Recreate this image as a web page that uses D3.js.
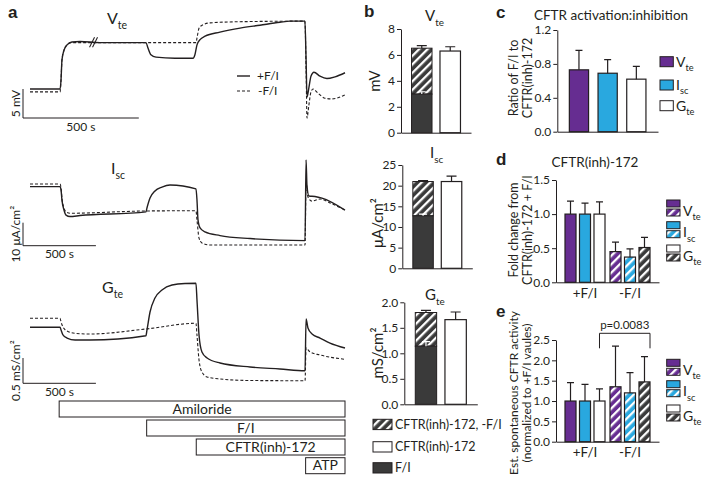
<!DOCTYPE html>
<html><head><meta charset="utf-8">
<script src="https://cdn.jsdelivr.net/npm/d3@7"></script>
<style>body{margin:0;background:#fff}svg{display:block;font-family:Lato,'Open Sans',sans-serif}</style>
</head><body><svg id="chart" width="708" height="478"></svg>
<script>
// ---------------- DATA ----------------
// Panel a traces (time in s, value in trace units)
const vteSolidT = [0,130,134,138,147,160,181,216,302,501,509,522,544,626,704,712,721,734,756,820,907,993,1079,1122,1187,1192,1196,1204,1213,1226,1252,1282,1317,1360];
const vteSolidV = [5.0,5.0,6.6,10.0,11.7,12.6,13.1,13.2,13.0,13.0,12.1,10.9,10.5,10.3,10.3,10.9,12.6,13.5,14.1,14.8,15.5,16.0,16.5,16.7,16.7,10.0,3.6,5.2,7.2,7.9,7.2,6.8,7.1,7.8];
const vteDashT = [0,130,134,138,147,160,181,501,717,721,730,743,777,907,1187,1192,1196,1204,1213,1222,1243,1274,1304,1360];
const vteDashV = [4.5,4.5,6.6,10.0,11.7,12.6,13.0,13.0,13.0,13.8,15.5,16.0,16.4,16.6,16.7,8.3,0,2.2,4.5,5.0,4.3,3.4,3.3,4.0];
const iscSolidT = [0,206,213,219,233,247,274,343,795,802,823,857,905,960,1138,1145,1152,1166,1200,1303,1509,1886,1893,1899,1913,1954,2002,2160];
const iscSolidV = [25.7,25.7,24.2,19.9,15.5,13.3,12.7,13.1,14.7,16.4,20.7,23.8,25.5,26.4,24.7,19.9,11.2,7.7,6.0,4.4,3.1,2.2,37.3,26.4,21.6,21.4,20.7,15.5];
const iscDashT = [0,206,213,219,233,247,274,795,1138,1145,1159,1179,1234,1886,1893,1906,1934,1989,2057,2160];
const iscDashV = [26.8,26.8,25.1,20.7,16.4,14.7,14.1,15.1,15.2,11.2,3.3,1.2,0.3,0.3,27.3,21.2,19.4,20.3,18.6,15.5];
const gteSolidT = [0,206,213,226,254,309,411,795,802,823,857,905,974,1063,1138,1145,1159,1179,1214,1303,1509,1714,1886,1893,1906,1934,1989,2057,2160];
const gteSolidV = [1.107,1.107,1.053,0.955,0.895,0.856,0.856,0.941,1.05,1.409,1.686,1.844,1.943,1.972,1.976,1.646,0.955,0.619,0.500,0.401,0.322,0.283,0.249,1.271,1.093,0.974,0.895,0.796,0.698];
const gteDashT = [0,206,213,226,254,309,411,795,1138,1145,1159,1179,1214,1303,1509,1886,1893,1920,1989,2160];
const gteDashV = [1.285,1.285,1.211,1.113,1.034,0.988,0.974,1.073,1.186,0.955,0.460,0.223,0.125,0.085,0.055,0.051,0.698,0.619,0.559,0.474];
const treatments = ["Amiloride","F/I","CFTR(inh)-172","ATP"];
const treatmentStart = [200,800,1140,1890];
const traceEnd = 2160;

// Panel b
const bCats = ["CFTR(inh)-172, -F/I","CFTR(inh)-172"];
const bMeasures = ["V","I","G"];
const bSubs = ["te","sc","te"];
const bUnits = ["mV","μA/cm²","mS/cm²"];
const bFI = [2.98,12.7,1.14];
const bFIerr = [0.18,0.4,0.09];
const bTotal = [6.52,21.0,1.80];
const bTotalErr = [0.2,0.2,0.04];
const bInh = [6.3,21.0,1.66];
const bInhErr = [0.33,1.3,0.15];
const bMax = [8,25,2];
const bStep = [2,5,0.5];

// Panel c
const series = ["Vte","Isc","Gte"];
const seriesMain = ["V","I","G"];
const seriesSub = ["te","sc","te"];
const cVals = [0.73,0.69,0.62];
const cErr = [0.23,0.16,0.15];

// Panel d
const groups = ["+F/I","-F/I"];
const dPlus = [1.0,1.0,1.0], dPlusErr = [0.19,0.16,0.18];
const dMinus = [0.45,0.37,0.51], dMinusErr = [0.14,0.12,0.15];

// Panel e
const ePlus = [1.0,1.0,1.0], ePlusErr = [0.45,0.41,0.30];
const eMinus = [1.35,1.20,1.47], eMinusErr = [1.0,0.50,0.62];
const pText = "p=0.0083";

// ---------------- DRAW ----------------
const svg = d3.select("#chart");
const INK = "#231f20", PURPLE = "#662d91", BLUE = "#29a8df", DARK = "#3a3a3a";
const LETTER_FONT = "'Liberation Sans',Arial,sans-serif";
const defs = svg.append("defs");
function makeHatch(id, bg){
  const p = defs.append("pattern").attr("id",id).attr("patternUnits","userSpaceOnUse")
    .attr("width",6).attr("height",6).attr("patternTransform","rotate(45)");
  p.append("rect").attr("width",6).attr("height",6).attr("fill",bg);
  p.append("rect").attr("width",2.3).attr("height",6).attr("fill","#fff");
}
makeHatch("hDark",DARK); makeHatch("hPurple",PURPLE); makeHatch("hBlue",BLUE);

function txt(g,x,y,s,size,o={}){
  const t=g.append("text").attr("x",x).attr("y",y).attr("font-size",size).attr("fill",INK).text(s);
  if(o.anchor) t.attr("text-anchor",o.anchor);
  if(o.weight) t.attr("font-weight",o.weight);
  if(o.rotate) t.attr("transform",`rotate(-90,${x},${y})`);
  if(o.family) t.attr("font-family",o.family);
  return t;
}
function subTxt(g,x,y,main,sub,size,anchor){
  const t=g.append("text").attr("x",x).attr("y",y).attr("font-size",size).attr("fill",INK).attr("text-anchor",anchor||"start");
  t.append("tspan").text(main);
  t.append("tspan").attr("font-size",size*0.66).attr("dy",size*0.32).text(sub);
  return t;
}
function styleAxis(s,size){
  s.attr("font-family",null).attr("font-size",null).attr("color",INK);
  s.selectAll("text").attr("font-size",size||12).attr("fill",INK);
  s.selectAll("path,line").attr("stroke",INK).attr("stroke-width",1);
}
function errBar(g,x,yTop,yEnd,cap,color){
  g.append("path").attr("d",`M${x},${yTop}V${yEnd}M${x-cap/2},${yEnd}H${x+cap/2}`)
   .attr("stroke",color||INK).attr("stroke-width",1.2).attr("fill","none");
}

// ----- Panel a -----
const ga = svg.append("g");
txt(ga,8,18,"a",17,{weight:"bold",family:LETTER_FONT});
const xV = d3.scaleLinear().domain([0,1360]).range([30,345]);
const yV = d3.scaleLinear().domain([0,5]).range([118,89]);
const xT = d3.scaleLinear().domain([0,traceEnd]).range([30,345]);
const yI = d3.scaleLinear().domain([0,10]).range([245.7,222.7]);
const yG = d3.scaleLinear().domain([0,0.5]).range([383.3,358]);

function trace(T,V,xs,ys,dashed){
  const pts=T.map((t,i)=>[t,V[i]]);
  ga.append("path").datum(pts)
    .attr("d",d3.line().x(d=>xs(d[0])).y(d=>ys(d[1])).curve(d3.curveMonotoneX))
    .attr("fill","none").attr("stroke",INK)
    .attr("stroke-width",dashed?1.1:1.4)
    .attr("stroke-dasharray",dashed?"3,2":null);
}
trace(vteDashT,vteDashV,xV,yV,true);
trace(vteSolidT,vteSolidV,xV,yV,false);
trace(iscDashT,iscDashV,xT,yI,true);
trace(iscSolidT,iscSolidV,xT,yI,false);
trace(gteDashT,gteDashV,xT,yG,true);
trace(gteSolidT,gteSolidV,xT,yG,false);

// break mark
{
  const bx=xV(270), by=yV(13.05);
  [0,3].forEach(o=>ga.append("line").attr("x1",bx-3+o).attr("y1",by+5).attr("x2",bx+2+o).attr("y2",by-5)
    .attr("stroke",INK).attr("stroke-width",1.1));
}
subTxt(ga,107,24,"V","te",16);
subTxt(ga,111,174,"I","sc",16);
subTxt(ga,102,293,"G","te",16);

function scaleBar(xs,ys,unitVal,label){
  const x0=23, len=xs(500)-xs(0);
  ga.append("path").attr("d",`M${x0},${ys(unitVal)}V${ys(0)}H${x0+len}`)
    .attr("fill","none").attr("stroke",INK).attr("stroke-width",1);
  txt(ga,20,(ys(0)+ys(unitVal))/2,label,12,{anchor:"middle",rotate:true});
  txt(ga,x0+len/2,ys(0)+12.5,"500 s",12,{anchor:"middle"});
}
scaleBar(xV,yV,5,"5 mV");
scaleBar(xT,yI,10,"10 μA/cm²");
scaleBar(xT,yG,0.5,"0.5 mS/cm²");

// legend a
ga.append("line").attr("x1",237).attr("x2",250).attr("y1",76).attr("y2",76).attr("stroke",INK).attr("stroke-width",1.4);
ga.append("line").attr("x1",237).attr("x2",250).attr("y1",91).attr("y2",91).attr("stroke",INK).attr("stroke-width",1.1).attr("stroke-dasharray","3,2");
txt(ga,257,80,"+F/I",12);
txt(ga,258,95,"-F/I",12);

// treatment boxes
const boxY=[401,420,439,457.7];
treatments.forEach((name,i)=>{
  const x=xT(treatmentStart[i]), w=xT(traceEnd)-x;
  ga.append("rect").attr("x",x).attr("y",boxY[i]).attr("width",w).attr("height",16)
    .attr("fill","#fff").attr("stroke",INK).attr("stroke-width",1);
  txt(ga,x+w/2,boxY[i]+12.5,name,14,{anchor:"middle"});
});

// ----- Panel b -----
const gb = svg.append("g");
txt(gb,364,17,"b",17,{weight:"bold",family:LETTER_FONT});
const bLayout=[
  {ax:401,y0:132.7,y1:29,w:70,tx:425,ty:21,ux:380,uy:81},
  {ax:402.3,y0:268.3,y1:165,w:70,tx:430,ty:158,ux:383,uy:223},
  {ax:404.3,y0:404.3,y1:302.3,w:73,tx:425,ty:300,ux:383,uy:353}
];
bMeasures.forEach((m,i)=>{
  const L=bLayout[i];
  const y=d3.scaleLinear().domain([0,bMax[i]]).range([L.y0,L.y1]);
  const x=d3.scaleBand().domain(bCats).range([L.ax,L.ax+L.w]).paddingInner(0.28).paddingOuter(0.37);
  const fmt = bMax[i]<5? d3.format(".1f"): d3.format("d");
  gb.append("g").attr("transform",`translate(${L.ax},0)`)
    .call(d3.axisLeft(y).tickValues(d3.range(0,bMax[i]+1e-9,bStep[i])).tickFormat(fmt).tickSize(4).tickSizeOuter(0).tickPadding(2))
    .call(s=>styleAxis(s,12));
  gb.append("g").attr("transform",`translate(0,${L.y0})`)
    .call(d3.axisBottom(x).tickSize(0).tickFormat(""))
    .call(s=>styleAxis(s));
  const bw=x.bandwidth();
  const x1=x(bCats[0]), x2=x(bCats[1]);
  gb.append("rect").attr("x",x1).attr("y",y(bTotal[i])).attr("width",bw).attr("height",y(bFI[i])-y(bTotal[i]))
    .attr("fill","url(#hDark)").attr("stroke",INK).attr("stroke-width",1);
  gb.append("rect").attr("x",x1).attr("y",y(bFI[i])).attr("width",bw).attr("height",y(0)-y(bFI[i]))
    .attr("fill",DARK).attr("stroke",INK).attr("stroke-width",1);
  errBar(gb,x1+bw/2,y(bFI[i]),y(bFI[i]+bFIerr[i]),8,"#fff");
  errBar(gb,x1+bw/2,y(bTotal[i]),y(bTotal[i]+bTotalErr[i]),10);
  gb.append("rect").attr("x",x2).attr("y",y(bInh[i])).attr("width",bw).attr("height",y(0)-y(bInh[i]))
    .attr("fill","#fff").attr("stroke",INK).attr("stroke-width",1.2);
  errBar(gb,x2+bw/2,y(bInh[i]),y(bInh[i]+bInhErr[i]),10);
  subTxt(gb,L.tx,L.ty,m,bSubs[i],15);
  txt(gb,L.ux,L.uy,bUnits[i],15,{anchor:"middle",rotate:true});
});
const bLeg=[{fill:"url(#hDark)",label:"CFTR(inh)-172, -F/I",y:419.3},{fill:"#fff",label:"CFTR(inh)-172",y:441.7},{fill:DARK,label:"F/I",y:462.7}];
bLeg.forEach(d=>{
  gb.append("rect").attr("x",373).attr("y",d.y).attr("width",19).attr("height",10.3).attr("fill",d.fill).attr("stroke",INK).attr("stroke-width",1);
  txt(gb,395,d.y+9.5,d.label,12.5);
});

// ----- Panel c -----
const gc = svg.append("g");
txt(gc,496,18,"c",17,{weight:"bold",family:LETTER_FONT});
txt(gc,611,20,"CFTR activation:inhibition",13.5,{anchor:"middle"});
const yC=d3.scaleLinear().domain([0,1.2]).range([131.7,30]);
const xC=d3.scaleBand().domain(series).range([557.3,658]).paddingInner(0.33).paddingOuter(0.42);
const fills=[PURPLE,BLUE,"#fff"];
const hatchFills=["url(#hPurple)","url(#hBlue)","url(#hDark)"];
gc.append("g").attr("transform","translate(557.3,0)")
  .call(d3.axisLeft(yC).tickValues([0,0.4,0.8,1.2]).tickFormat(d3.format(".1f")).tickSize(4).tickSizeOuter(0).tickPadding(2))
  .call(s=>styleAxis(s,12));
gc.append("g").attr("transform","translate(0,131.7)").call(d3.axisBottom(xC).tickSize(0).tickFormat("")).call(s=>styleAxis(s));
series.forEach((s,i)=>{
  gc.append("rect").attr("x",xC(s)).attr("y",yC(cVals[i])).attr("width",xC.bandwidth()).attr("height",yC(0)-yC(cVals[i]))
    .attr("fill",fills[i]).attr("stroke",INK).attr("stroke-width",1.2);
  errBar(gc,xC(s)+xC.bandwidth()/2,yC(cVals[i]),yC(cVals[i]+cErr[i]),7);
});
txt(gc,518,78,"Ratio of F/I to",12.5,{anchor:"middle",rotate:true});
txt(gc,531.5,78,"CFTR(inh)-172",12.5,{anchor:"middle",rotate:true});
const cLegY=[56.7,80,100.7];
series.forEach((s,i)=>{
  gc.append("rect").attr("x",660).attr("y",cLegY[i]).attr("width",13.3).attr("height",10).attr("fill",fills[i]).attr("stroke",INK).attr("stroke-width",1);
  subTxt(gc,676,cLegY[i]+10,seriesMain[i],seriesSub[i],14);
});

// ----- Panels d & e (grouped) -----
function grouped(g,yDomainMax,ticks,y0,y1,plus,plusErr,minus,minusErr,legY){
  const y=d3.scaleLinear().domain([0,yDomainMax]).range([y0,y1]);
  const x0=d3.scaleBand().domain(groups).range([556,659]).paddingInner(0.111).paddingOuter(0.2);
  const x1=d3.scaleBand().domain(series).range([0,x0.bandwidth()]).paddingInner(0.24).paddingOuter(0);
  g.append("g").attr("transform","translate(556,0)")
    .call(d3.axisLeft(y).tickValues(ticks).tickFormat(d3.format(".1f")).tickSize(4).tickSizeOuter(0).tickPadding(2))
    .call(s=>styleAxis(s,12));
  g.append("g").attr("transform",`translate(0,${y0})`)
    .call(d3.axisBottom(x0).tickSize(0).tickPadding(6)).call(s=>styleAxis(s,13.5));
  const data=[plus,minus], errs=[plusErr,minusErr];
  groups.forEach((gr,gi)=>{
    series.forEach((s,si)=>{
      const v=data[gi][si], e=errs[gi][si];
      const bx=x0(gr)+x1(s);
      g.append("rect").attr("x",bx).attr("y",y(v)).attr("width",x1.bandwidth()).attr("height",y(0)-y(v))
        .attr("fill",gi===0?fills[si]:hatchFills[si]).attr("stroke",INK).attr("stroke-width",1.2);
      errBar(g,bx+x1.bandwidth()/2,y(v),y(v+e),7);
    });
  });
  series.forEach((s,i)=>{
    g.append("rect").attr("x",666.7).attr("y",legY[i]).attr("width",13.3).attr("height",7).attr("fill",fills[i]).attr("stroke",INK).attr("stroke-width",1);
    g.append("rect").attr("x",666.7).attr("y",legY[i]+9).attr("width",13.3).attr("height",7).attr("fill",hatchFills[i]).attr("stroke",INK).attr("stroke-width",1);
    subTxt(g,683,legY[i]+15.5,seriesMain[i],seriesSub[i],14);
  });
  return {x0,x1,y};
}
const gd=svg.append("g");
txt(gd,496,165,"d",17,{weight:"bold",family:LETTER_FONT});
txt(gd,595,167,"CFTR(inh)-172",13.5,{anchor:"middle"});
grouped(gd,1.5,[0,0.5,1.0,1.5],282.3,180,dPlus,dPlusErr,dMinus,dMinusErr,[200,221.7,245]);
txt(gd,518,230,"Fold change from",12.5,{anchor:"middle",rotate:true});
txt(gd,531.5,230,"CFTR(inh)-172 + F/I",12.5,{anchor:"middle",rotate:true});

const ge=svg.append("g");
txt(ge,496,317,"e",17,{weight:"bold",family:LETTER_FONT});
const E=grouped(ge,2.5,[0,0.5,1.0,1.5,2.0,2.5],441.7,340,ePlus,ePlusErr,eMinus,eMinusErr,[359.3,380.7,405]);
txt(ge,518,393,"Est. spontaneous CFTR activity",12,{anchor:"middle",rotate:true});
txt(ge,531,393,"(normalized to +F/I vaules)",12,{anchor:"middle",rotate:true});
{
  const xl=E.x0(groups[0])+E.x1("Gte")+E.x1.bandwidth()/2;
  const xr=E.x0(groups[1])+E.x1("Gte")+E.x1.bandwidth();
  ge.append("path").attr("d",`M${xl},348.3V333.3H${xr}V348.3`).attr("fill","none").attr("stroke",INK).attr("stroke-width",1);
  txt(ge,(xl+xr)/2,329,pText,11.5,{anchor:"middle"});
}
</script></body></html>
